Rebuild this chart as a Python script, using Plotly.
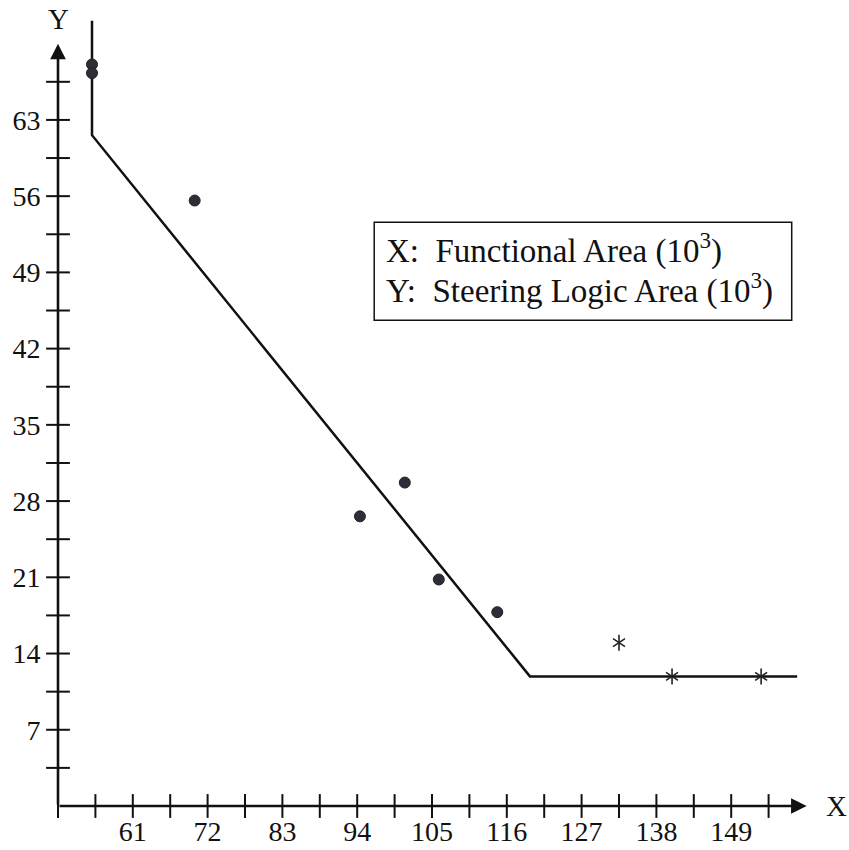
import plotly.graph_objects as go

# ---- data ----
fit_x = [55, 55, 119.4, 158.7]
fit_y = [72.1, 61.6, 11.9, 11.9]

dot_x = [55, 55, 70.1, 94.4, 101.0, 106.0, 114.6]
dot_y = [68.1, 67.3, 55.6, 26.6, 29.7, 20.8, 17.8]

star_x = [132.5, 140.3, 153.4]
star_y = [15.0, 11.9, 11.9]

x_tick_labels = [61, 72, 83, 94, 105, 116, 127, 138, 149]
y_tick_labels = [7, 14, 21, 28, 35, 42, 49, 56, 63]
x_minor = [50 + 5.5 * i for i in range(20)]      # 50 .. 154.5
y_minor = [3.5 * i for i in range(1, 20)]        # 3.5 .. 66.5

X0, Y0 = 50, 0
X_END, Y_END = 160.1, 70.0

FONT = "Liberation Serif, serif"
INK = "#111111"

fig = go.Figure()

# fitted broken line
fig.add_trace(go.Scatter(x=fit_x, y=fit_y, mode="lines",
                         line=dict(color=INK, width=2.5),
                         cliponaxis=False, hoverinfo="skip"))
# dots
fig.add_trace(go.Scatter(x=dot_x, y=dot_y, mode="markers",
                         marker=dict(size=11, color="#2e2e38",
                                     line=dict(width=1, color="#222222")),
                         cliponaxis=False))
# asterisks (6-armed: two overlaid Y shapes)
for sym in ["y-up-open", "y-down-open"]:
    fig.add_trace(go.Scatter(x=star_x, y=star_y, mode="markers",
                             marker=dict(symbol=sym, size=10, color="#222222",
                                         line=dict(width=1.6, color="#222222")),
                             cliponaxis=False))
# axis tick marks (crossing)
fig.add_trace(go.Scatter(x=x_minor, y=[Y0] * len(x_minor), mode="markers",
                         marker=dict(symbol="line-ns", size=17, color=INK,
                                     line=dict(width=2, color=INK)),
                         cliponaxis=False, hoverinfo="skip"))
fig.add_trace(go.Scatter(x=[X0] * len(y_minor), y=y_minor, mode="markers",
                         marker=dict(symbol="line-ew", size=17, color=INK,
                                     line=dict(width=2, color=INK)),
                         cliponaxis=False, hoverinfo="skip"))

annotations = [
    # axis arrows
    dict(x=X_END, y=Y0, ax=X0, ay=Y0, xref="x", yref="y", axref="x", ayref="y",
         text="", showarrow=True, arrowhead=2, arrowsize=1.2, arrowwidth=2.6,
         arrowcolor=INK, standoff=0),
    dict(x=X0, y=Y_END, ax=X0, ay=Y0, xref="x", yref="y", axref="x", ayref="y",
         text="", showarrow=True, arrowhead=2, arrowsize=1.2, arrowwidth=2.6,
         arrowcolor=INK, standoff=0),
    dict(x=X0, y=Y_END, xref="x", yref="y", text="Y", showarrow=False,
         yshift=25, font=dict(family=FONT, size=29, color=INK)),
    dict(x=X_END, y=Y0, xref="x", yref="y", text="X", showarrow=False,
         xanchor="left", xshift=17, font=dict(family=FONT, size=29, color=INK)),
    dict(x=97.9, y=51.24, xref="x", yref="y", xanchor="left", yanchor="middle",
         text="X:&nbsp; Functional Area (10<sup>3</sup>)", showarrow=False,
         font=dict(family=FONT, size=33, color=INK)),
    dict(x=97.9, y=47.5, xref="x", yref="y", xanchor="left", yanchor="middle",
         text="Y:&nbsp; Steering Logic Area (10<sup>3</sup>)", showarrow=False,
         font=dict(family=FONT, size=33, color=INK)),
]

shapes = [dict(type="rect", xref="x", yref="y", x0=96.5, x1=157.9, y0=44.6, y1=53.6,
               line=dict(color=INK, width=1.5))]

fig.update_layout(
    width=849, height=850,
    margin=dict(l=58, r=0, t=0, b=44),
    paper_bgcolor="white", plot_bgcolor="white",
    showlegend=False,
    annotations=annotations, shapes=shapes,
    xaxis=dict(range=[50, 50 + 791 / 6.8], showgrid=False, zeroline=False,
               showline=False, tickmode="array", tickvals=x_tick_labels,
               ticktext=[str(v) for v in x_tick_labels],
               ticks="outside", ticklen=0, tickcolor="rgba(0,0,0,0)",
               tickfont=dict(family=FONT, size=28, color=INK),
               automargin=False, fixedrange=True),
    yaxis=dict(range=[0, 806 / 10.89], showgrid=False, zeroline=False,
               showline=False, tickmode="array", tickvals=y_tick_labels,
               ticktext=[str(v) for v in y_tick_labels],
               ticks="outside", ticklen=11, tickcolor="rgba(0,0,0,0)",
               tickfont=dict(family=FONT, size=28, color=INK),
               automargin=False, fixedrange=True),
)

fig.write_html("out.html")
